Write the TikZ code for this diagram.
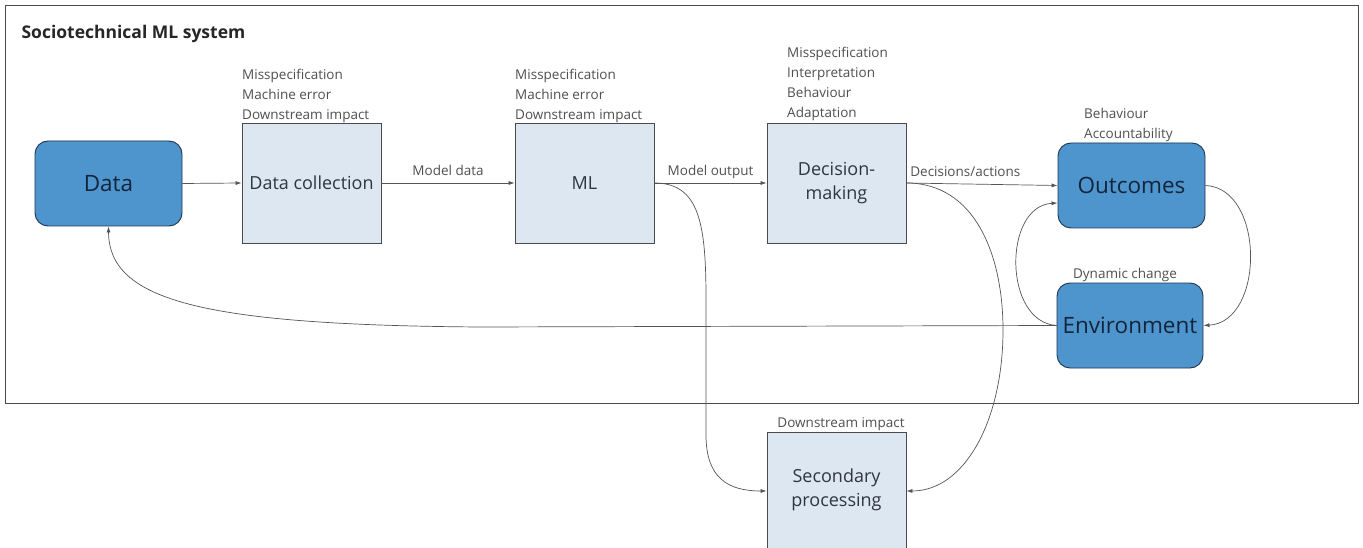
\documentclass[tikz,border=0pt]{standalone}
\usepackage{fontspec}
\setmainfont{Open Sans}
\usetikzlibrary{arrows.meta}
\definecolor{darkfill}{HTML}{4E95CE}
\definecolor{darkedge}{HTML}{1E3550}
\definecolor{darktext}{HTML}{13253A}
\definecolor{lightfill}{HTML}{DCE7F2}
\definecolor{lightedge}{HTML}{4A4A4A}
\definecolor{lighttext}{HTML}{2E3640}
\definecolor{labeltext}{HTML}{505050}
\definecolor{wire}{HTML}{555555}
\tikzset{
  darkbox/.style={draw=darkedge, line width=0.9pt, fill=darkfill, rounded corners=13pt,
    text=darktext, font=\fontsize{22.5}{26}\selectfont, inner sep=0pt},
  lightbox/.style={draw=lightedge, line width=0.8pt, fill=lightfill,
    text=lighttext, font=\fontsize{18}{24}\selectfont, align=center, inner sep=0pt,
    minimum width=139pt, minimum height=120pt},
  issues/.style={text=labeltext, font=\fontsize{13.5}{20}\selectfont, align=left, inner sep=1pt},
  flowlabel/.style={text=labeltext, font=\fontsize{13.5}{16}\selectfont, inner sep=1pt,
    text height=10pt, text depth=3.5pt},
  wirearrow/.style={draw=wire, line width=0.7pt, -{Latex[length=6pt,width=4pt]}}
}
\begin{document}
\begin{tikzpicture}[x=1pt,y=-1pt]
  \useasboundingbox (0,0) rectangle (1363,548);
  \fill[white] (0,0) rectangle (1363,548);
  % system frame
  \draw[draw=lightedge, line width=0.8pt] (5,5) rectangle (1358,403);
  \node[anchor=west, font=\bfseries\fontsize{17.5}{20}\selectfont, text=black!85] (title) at (18,34) {Sociotechnical ML system};

  % main blocks
  \node[darkbox, minimum width=147pt, minimum height=85pt] (data) at (108.5,183.5) {Data};
  \node[lightbox] (coll) at (311.5,183) {Data collection};
  \node[lightbox] (ml) at (584.5,183) {ML};
  \node[lightbox] (dec) at (836.5,183) {Decision-\\making};
  \node[darkbox, minimum width=147pt, minimum height=85pt] (out) at (1131.5,185.5) {Outcomes};
  \node[darkbox, minimum width=146pt, minimum height=85pt] (env) at (1130,325.5) {Environment};
  \node[lightbox, minimum height=140pt] (sec) at (836.5,502) {};
  \node[text=lighttext, font=\fontsize{18}{24}\selectfont, align=center] (sectext) at (836.5,490) {Secondary\\processing};

  % issue lists above the blocks
  \node[issues, anchor=south west] (collissues) at (241,124) {Misspecification\\Machine error\\Downstream impact};
  \node[issues, anchor=south west] (mlissues) at (514,124) {Misspecification\\Machine error\\Downstream impact};
  \node[issues, anchor=south west] (decissues) at (786,122) {Misspecification\\Interpretation\\Behaviour\\Adaptation};
  \node[issues, anchor=south west] (outissues) at (1083,143) {Behaviour\\Accountability};
  \node[issues, anchor=south] (envissues) at (1125,283) {Dynamic change};
  \node[issues, anchor=south] (secissues) at (841,432) {Downstream impact};

  % main flow
  \draw[wirearrow] (data.east) -- (coll.west);
  \draw[wirearrow] (coll.east) -- node[flowlabel, above=3pt] (lblmd) {Model data} (ml.west);
  \draw[wirearrow] (ml.east) -- node[flowlabel, above=3pt] (lblmo) {Model output} (dec.west);
  \draw[wirearrow] (dec.east) -- node[flowlabel, above=3pt, pos=0.39] (lblda) {Decisions/actions} (out.west);

  % branches to secondary processing
  \draw[wirearrow] (ml.east) .. controls (700,183) and (706,225) .. (706,300)
    -- (706,435) .. controls (706,478) and (728,491) .. ([yshift=11pt]sec.west);
  \draw[wirearrow] (dec.east) .. controls (975,183) and (1003,255) .. (1003,330)
    .. controls (1003,420) and (965,491) .. ([yshift=11pt]sec.east);

  % outcome / environment loop
  \draw[wirearrow] (out.east) .. controls (1265,188) and (1265,322) .. (env.east);
  \draw[wirearrow] (env.west) .. controls (1003,322) and (1003,206) .. ([yshift=-17.5pt]out.west);

  % feedback to data
  \draw[wirearrow] (env.west) -- (480,327) .. controls (200,325) and (109,300) .. (data.south);
\end{tikzpicture}
\end{document}
